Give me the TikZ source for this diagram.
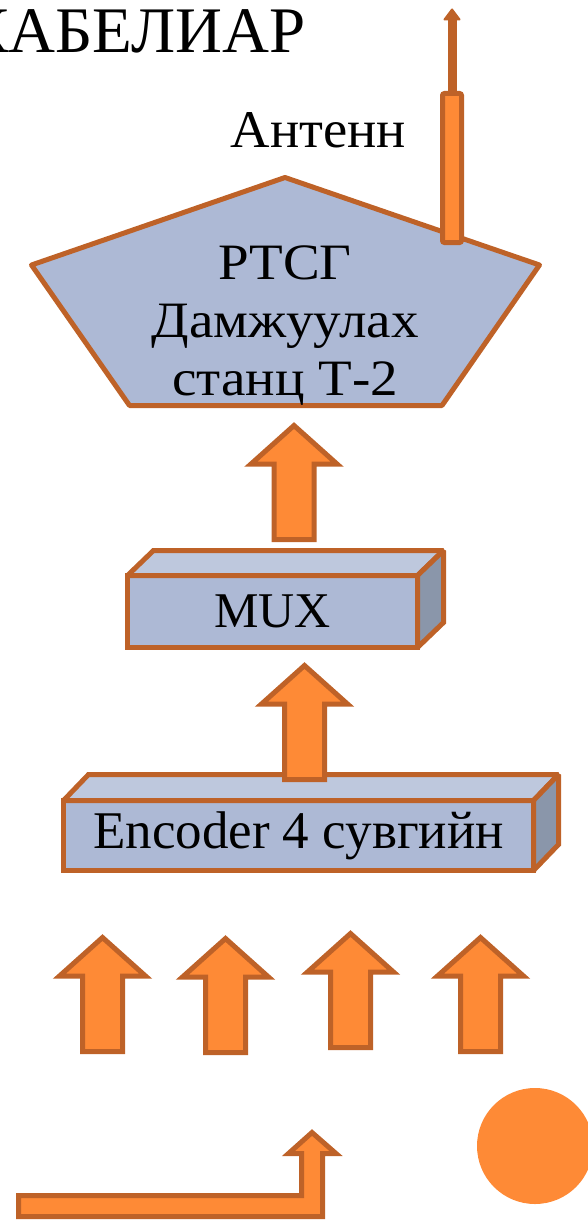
\documentclass[tikz,border=0pt]{standalone}
\usepackage{fontspec}
\setmainfont{Liberation Serif}
\newfontfamily\widefont[FakeStretch=1.08]{Liberation Serif}
\newfontfamily\midfont[FakeStretch=1.03]{Liberation Serif}
\usetikzlibrary{calc}
\definecolor{brn}{RGB}{190,98,40}
\definecolor{org}{RGB}{254,138,54}
\definecolor{bfront}{RGB}{173,185,213}
\definecolor{btop}{RGB}{190,200,221}
\definecolor{bside}{RGB}{138,150,170}
\begin{document}
\begin{tikzpicture}[x=1pt,y=-1pt,
  brd/.style={draw=brn,line width=5pt},
  blk/.style={brd,fill=org,line join=miter,miter limit=10},
  face/.style={brd,line join=miter,miter limit=2,outer sep=0pt,inner sep=0pt,text=black},
  lbl/.style={inner sep=0pt,text=black},
  uparrow/.pic={\path[blk] (0,3.5) -- (43,42) -- (20,42) -- (20,117.5) -- (-20,117.5) -- (-20,42) -- (-43,42) -- cycle;}
]
\useasboundingbox (0,0) rectangle (588,1220);
\clip (0,0) rectangle (588,1220);

% title
\node[lbl,anchor=base east,font=\fontsize{65}{70}\selectfont] (title) at (306,53) {КАБЕЛИАР};

% antenna label
\node[lbl,anchor=base,font=\midfont\fontsize{53}{60}\selectfont] (antlabel) at (318.5,147) {Антенн};

% station pentagon
\path[brd,fill=bfront,line join=round] (285,177.5) -- (539.5,265) -- (442,405.5) -- (129.5,405.5) -- (31.5,265) -- cycle;
\node[lbl,align=center,font=\widefont\fontsize{51}{58}\selectfont,anchor=base] (station) at (285,395) {РТСГ\\Дамжуулах\\станц Т-2};

% antenna
\draw[brn,line width=9pt] (452,95) -- (452,18);
\path[fill=brn,draw=brn,line width=2pt,line join=round] (444.5,19.5) -- (452,9.5) -- (459.5,19.5) -- cycle;
\path[brd,fill=org,rounded corners=2pt] (442.5,93.5) rectangle (461.5,242.5);

% MUX box
\node[face,fill=bfront,minimum width=290pt,minimum height=72pt,font=\fontsize{50}{56}\selectfont] (mux) at (272.5,611.5) {MUX};
\path[face,fill=btop] (mux.north west) -- ++(26,-25) -- ++(290,0) -- (mux.north east) -- cycle;
\path[face,fill=bside] (mux.north east) -- ++(26,-25) -- ++(0,72) -- (mux.south east) -- cycle;

% Encoder box
\node[face,fill=bfront,minimum width=470pt,minimum height=70pt,font=\fontsize{53}{60}\selectfont] (enc) at (298.5,835.5) {Encoder 4 сувгийн};
\path[face,fill=btop] (enc.north west) -- ++(25,-26) -- ++(470,0) -- (enc.north east) -- cycle;
\path[face,fill=bside] (enc.north east) -- ++(25,-26) -- ++(0,70) -- (enc.south east) -- cycle;

% block arrows
\pic at (294,422) {uparrow};
\pic at (304.5,662) {uparrow};
\pic at (102.5,934) {uparrow};
\pic at (225.5,935) {uparrow};
\pic at (350.5,930) {uparrow};
\pic at (480.5,934) {uparrow};

% bent arrow
\path[blk] (18.5,1216.5) -- (322.5,1216.5) -- (322.5,1153.5) -- (336,1153.5) -- (312,1132.5) -- (288.5,1153.5) -- (301.5,1153.5) -- (301.5,1195.5) -- (18.5,1195.5) -- cycle;

% circle
\fill[org] (535,1146) circle[radius=58pt];
\end{tikzpicture}
\end{document}
